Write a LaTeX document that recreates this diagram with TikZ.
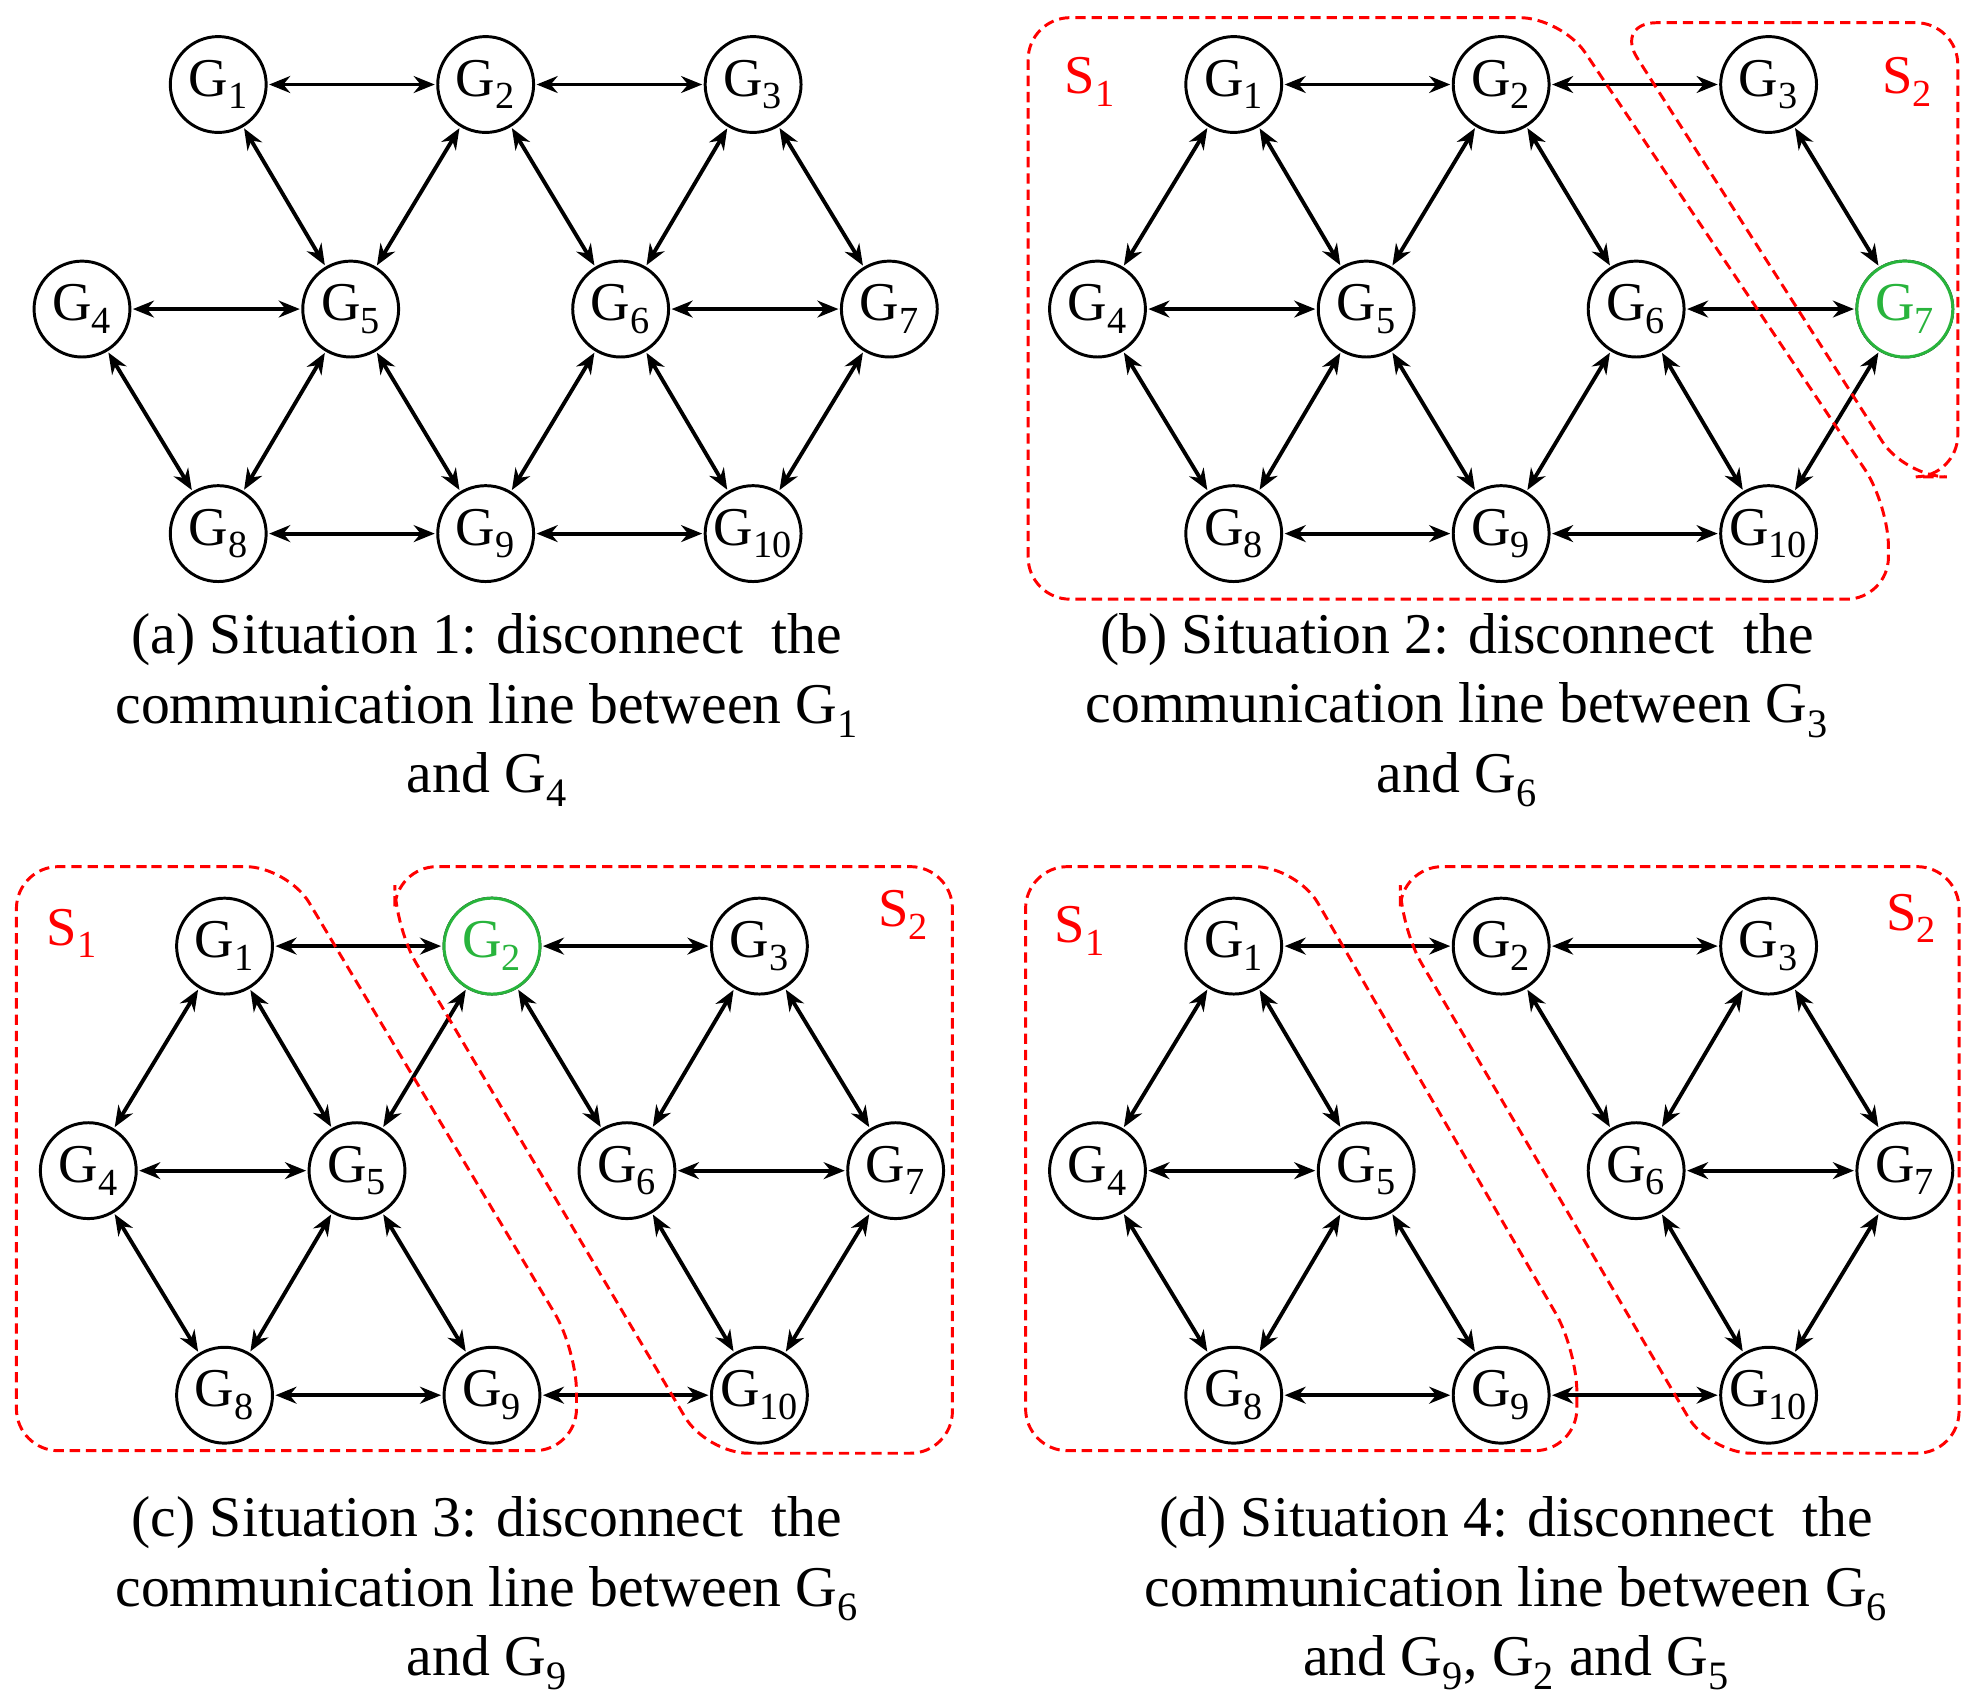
\documentclass[tikz,border=0pt]{standalone}
\usepackage{fontspec}
\setmainfont{Liberation Serif}
\usetikzlibrary{arrows.meta}
\begin{document}
\begin{tikzpicture}[x=0.3mm,y=-0.3mm,
  gn/.style={circle,draw,line width=2pt,minimum size=22.8mm,inner sep=0pt,font=\fontsize{37}{40}\selectfont},
  gg/.style={gn,draw={rgb,255:red,40;green,180;blue,60},text={rgb,255:red,40;green,180;blue,60}},
  ed/.style={{Stealth[length=5mm,width=4mm]}-{Stealth[length=5mm,width=4mm]},line width=2.6pt,shorten <=1pt,shorten >=1pt},
  reg/.style={draw=red,line width=2pt,dash pattern=on 7pt off 4pt,rounded corners=10mm},
  sl/.style={text=red,font=\fontsize{37}{40}\selectfont},
  captxt/.style={align=center,font=\fontsize{39}{47}\selectfont}]
\useasboundingbox (0,0) rectangle (1568,1351);
\newcommand\mkpanel[4]{%
  \foreach \i/\x/\y in {1/173/67,2/385/67,3/597/67,4/65/245,5/278/245,6/492/245,7/705/245,8/173/423,9/385/423,10/597/423}{
    \node[gn] (#1\i) at ({\x+#2},{\y+#3}) {G\textsubscript{\i}};
  }%
  \foreach \u/\v in {#4}{\draw[ed] (#1\u) -- (#1\v);}%
}
\mkpanel{a}{0}{0}{1/2,2/3,1/5,2/5,2/6,3/6,3/7,4/5,6/7,4/8,5/8,5/9,6/9,6/10,7/10,8/9,9/10}
\mkpanel{b}{805}{0}{1/2,2/3,1/4,1/5,2/5,2/6,3/7,4/5,6/7,4/8,5/8,5/9,6/9,6/10,7/10,8/9,9/10}
\mkpanel{c}{5}{683}{1/2,2/3,1/4,1/5,2/5,2/6,3/6,3/7,4/5,6/7,4/8,5/8,5/9,6/10,7/10,8/9,9/10}
\mkpanel{d}{805}{683}{1/2,2/3,1/4,1/5,2/6,3/6,3/7,4/5,6/7,4/8,5/8,5/9,6/10,7/10,8/9,9/10}
\node[gg,fill=white] at (b7) {G\textsubscript{7}};
\node[gg,fill=white] at (c2) {G\textsubscript{2}};
\draw[reg] (1000,14) -- (1238,14) -- (1497,400) -- (1497,475) -- (815,475) -- (815,14) -- (1000,14);
\draw[reg] (1420,18) -- (1552,18) -- (1552,378) -- (1510,378) -- (1280,18) -- (1420,18);
\draw[reg] (120,687) -- (228,687) -- (457,1070) -- (457,1150) -- (13,1150) -- (13,687) -- (120,687);
\draw[reg] (500,687) -- (755,687) -- (755,1152) -- (560,1152) -- (313,735) -- (313,687) -- (500,687);
\draw[reg] (920,687) -- (1028,687) -- (1250,1070) -- (1250,1150) -- (813,1150) -- (813,687) -- (920,687);
\draw[reg] (1300,687) -- (1553,687) -- (1553,1152) -- (1355,1152) -- (1110,735) -- (1110,687) -- (1300,687);
\node[sl] (s1b) at (864,65) {S\textsubscript{1}};
\node[sl] (s2b) at (1512,65) {S\textsubscript{2}};
\node[sl] (s1c) at (57,740) {S\textsubscript{1}};
\node[sl] (s2c) at (716,725) {S\textsubscript{2}};
\node[sl] (s1d) at (856,738) {S\textsubscript{1}};
\node[sl] (s2d) at (1515,728) {S\textsubscript{2}};
\node[captxt] (ca) at (386,563) {(a) Situation 1: disconnect\ \ the\\communication line between G\textsubscript{1}\\and G\textsubscript{4}};
\node[captxt] (cb) at (1155,563) {(b) Situation 2: disconnect\ \ the\\communication line between G\textsubscript{3}\\and G\textsubscript{6}};
\node[captxt] (cc) at (386,1263) {(c) Situation 3: disconnect\ \ the\\communication line between G\textsubscript{6}\\and G\textsubscript{9}};
\node[captxt] (cd) at (1202,1263) {(d) Situation 4: disconnect\ \ the\\communication line between G\textsubscript{6}\\and G\textsubscript{9}, G\textsubscript{2} and G\textsubscript{5}};
\end{tikzpicture}
\end{document}
